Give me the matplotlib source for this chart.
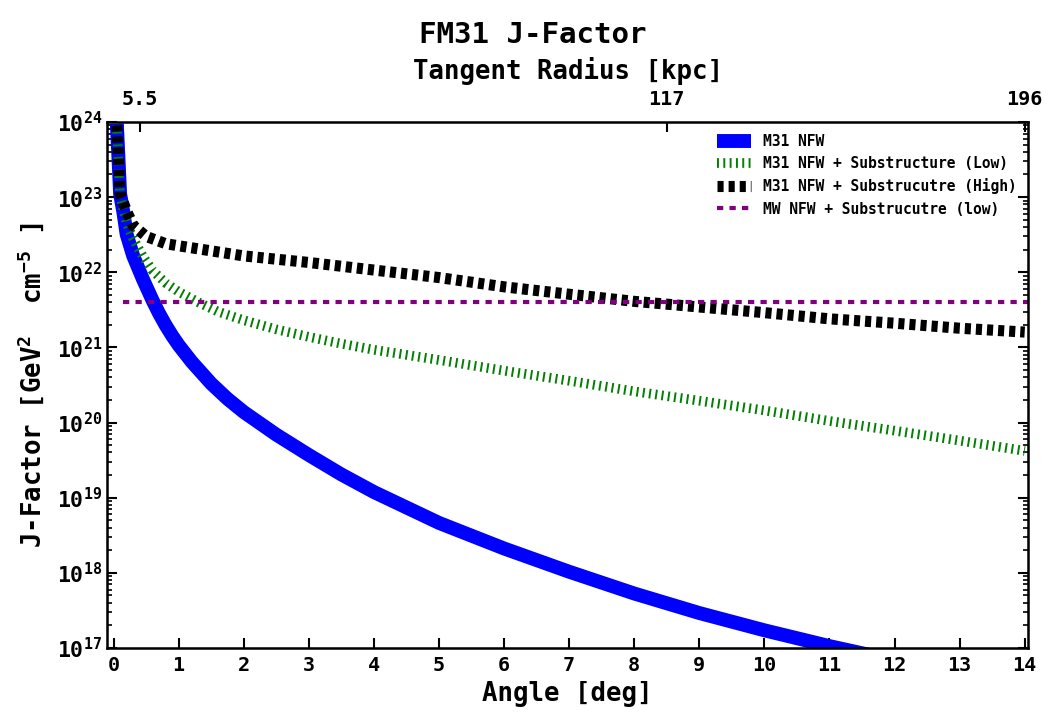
import numpy as np
import matplotlib
matplotlib.use('Agg')
import matplotlib.pyplot as plt

plt.rcParams['font.family'] = 'DejaVu Sans Mono'
plt.rcParams['font.weight'] = 'bold'
plt.rcParams['axes.labelweight'] = 'bold'
plt.rcParams['mathtext.fontset'] = 'custom'
plt.rcParams['mathtext.rm'] = 'DejaVu Sans Mono:bold'
plt.rcParams['mathtext.it'] = 'DejaVu Sans Mono:bold'
plt.rcParams['mathtext.bf'] = 'DejaVu Sans Mono:bold'
plt.rcParams['mathtext.default'] = 'rm'

# M31 NFW (smooth halo)
nfw_angle = [0.05, 0.1, 0.15, 0.2, 0.3, 0.45, 0.6, 0.7, 0.8, 0.9, 1.0, 1.2,
             1.5, 1.75, 2.0, 2.5, 3.0, 3.5, 4.0, 5.0, 6.0, 7.0, 8.0, 9.0,
             10.0, 11.0, 12.0]
nfw_j = [9.5e23, 1.1e23, 6.3e22, 3.2e22, 1.66e22, 8.1e21, 4.2e21, 2.82e21,
         1.97e21, 1.43e21, 1.07e21, 6.43e20, 3.3e20, 2.07e20, 1.38e20,
         6.9e19, 3.7e19, 2.04e19, 1.19e19, 4.62e18, 2.11e18, 1.035e18,
         5.31e17, 2.92e17, 1.72e17, 1.06e17, 6.84e16]

# M31 NFW + substructure, low boost
low_angle = [0.05, 0.1, 0.2, 0.3, 0.45, 0.6, 0.8, 1.0, 1.3, 1.6, 2.0, 2.5,
             3.0, 3.5, 4.0, 5.0, 6.0, 7.0, 8.0, 9.0, 10.0, 11.0, 12.0, 13.0,
             14.0]
low_j = [9.0e23, 1.05e23, 4.5e22, 2.8e22, 1.62e22, 1.05e22, 7.2e21, 5.5e21,
         4.0e21, 3.0e21, 2.3e21, 1.74e21, 1.38e21, 1.12e21, 9.3e20, 6.8e20,
         4.9e20, 3.6e20, 2.6e20, 1.95e20, 1.45e20, 1.05e20, 7.8e19, 5.75e19,
         4.2e19]

# M31 NFW + substructure, high boost
high_angle = [0.05, 0.1, 0.2, 0.3, 0.5, 0.8, 1.0, 2.0, 3.0, 4.0, 5.0, 6.0,
              7.0, 8.0, 9.0, 10.0, 11.0, 12.0, 13.0, 14.0]
high_j = [9.0e23, 1.1e23, 6.5e22, 4.2e22, 3.0e22, 2.4e22, 2.25e22, 1.65e22,
          1.35e22, 1.07e22, 8.5e21, 6.4e21, 5.1e21, 4.1e21, 3.45e21, 2.9e21,
          2.4e21, 2.1e21, 1.8e21, 1.6e21]

# MW foreground level
mw_angle = [0.15, 14.05]
mw_j = [4.0e21, 4.0e21]

# top axis: tangent radius
top_ticks = [0.4, 8.5, 14.0]
top_labels = ['5.5', '117', '196']

fig = plt.figure(figsize=(10.5, 7.2), dpi=100)
ax = fig.add_axes([0.102, 0.1, 0.877, 0.7306])

ax.plot(nfw_angle, nfw_j, color='#0000ff', lw=10, solid_capstyle='butt',
        solid_joinstyle='round', label='M31 NFW')
ax.plot(low_angle, low_j, color='green', lw=7, dashes=(0.2, 0.45),
        label='M31 NFW + Substructure (Low)')
ax.plot(high_angle, high_j, color='black', lw=8, dashes=(0.55, 0.45),
        label='M31 NFW + Substrucutre (High)')
ax.plot(mw_angle, mw_j, color='#800080', lw=3, dashes=(1.5, 1.5),
        label='MW NFW + Substrucutre (low)')

ax.set_yscale('log')
ax.set_xlim(-0.1, 14.05)
ax.set_ylim(1e17, 1e24)
ax.set_xticks(range(0, 15))
ax.tick_params(axis='both', which='major', direction='in', length=7,
               width=1.5, labelsize=14.5, right=True)
ax.tick_params(axis='x', pad=6)
ax.tick_params(axis='y', labelsize=15.5)
ax.tick_params(axis='y', which='minor', direction='in', length=3.5,
               width=1.2, right=True)
ax.tick_params(axis='x', which='major', top=False)
for s in ax.spines.values():
    s.set_linewidth(1.8)

ax.set_xlabel('Angle [deg]', fontsize=18.5, labelpad=4)
ax.set_ylabel('J-Factor [GeV$^2$  cm$^{-5}$ ]', fontsize=18.5, labelpad=7)

ax2 = ax.twiny()
ax2.set_xlim(ax.get_xlim())
ax2.set_xticks(top_ticks)
ax2.set_xticklabels(top_labels)
ax2.tick_params(axis='x', direction='in', length=7, width=1.5,
                labelsize=14.5, pad=9)
ax2.set_xlabel('Tangent Radius [kpc]', fontsize=18.5, labelpad=8)

leg = ax.legend(loc='upper right', frameon=False, fontsize=10.5,
                handlelength=2.3, borderaxespad=0.4)

fig.text(0.507, 0.951, 'FM31 J-Factor', ha='center', va='center',
         fontsize=21, fontweight='bold')

fig.savefig('out.png', dpi=100)
